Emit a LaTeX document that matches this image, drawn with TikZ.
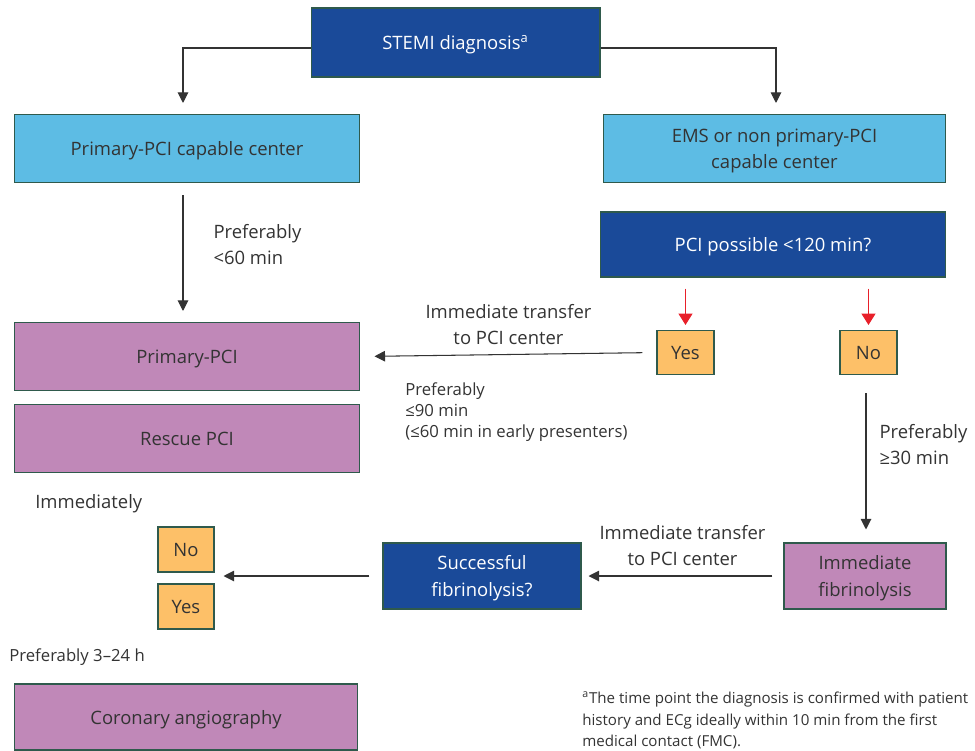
\documentclass[tikz,border=0pt]{standalone}
\usepackage{fontspec}
\setmainfont{Open Sans}
\usepackage{tikz}
\usetikzlibrary{arrows.meta, positioning, calc}
\definecolor{darkblue}{HTML}{1A4A99}
\definecolor{lightblue}{HTML}{5DBCE4}
\definecolor{mauve}{HTML}{C088B8}
\definecolor{amber}{HTML}{FDC068}
\definecolor{edge}{HTML}{2F5A4C}
\definecolor{ink}{HTML}{333333}
\definecolor{alarm}{HTML}{E8202A}

\begin{document}
\begin{tikzpicture}[x=0.02cm, y=-0.02cm,
    every node/.style={text=ink, font=\fontsize{10.5}{15}\selectfont},
    box/.style={draw=edge, line width=0.6pt, inner sep=2pt, align=center},
    big/.style={box, text depth=-4pt},
    wide/.style={big, minimum width=6.92cm, minimum height=1.36cm},
    decide/.style={big, fill=darkblue, text=white},
    answer/.style={box, fill=amber, minimum width=1.14cm, minimum height=0.88cm},
    arr/.style={-{Triangle[length=6pt, width=6pt]}, ink, line width=0.6pt},
    redarr/.style={-{Triangle[length=6.5pt, width=8pt]}, alarm, line width=0.6pt},
    note/.style={align=left, inner sep=0pt, anchor=north west}]
    \useasboundingbox (0,0) rectangle (975,751);
    \node[decide, minimum width=5.78cm, minimum height=1.38cm] (stemi) at (455.5,42.5) {STEMI diagnosis\textsuperscript{a}};
    \node[wide, fill=lightblue] (pcc) at (187,148.5) {Primary-PCI capable center};
    \node[wide, fill=lightblue, minimum width=6.86cm] (ems) at (774.5,148.5) {EMS or non primary-PCI\\capable center};
    \node[wide, decide, minimum height=1.30cm] (poss) at (773,244.5) {PCI possible <120 min?};
    \node[answer] (yesA) at (685.5,352.5) {Yes};
    \node[answer] (noA) at (868.5,352.5) {No};
    \node[wide, fill=mauve] (ppci) at (187,356.5) {Primary-PCI};
    \node[wide, fill=mauve] (rescue) at (187,438.5) {Rescue PCI};
    \node[answer, minimum width=1.12cm, minimum height=0.90cm] (noB) at (186,549.5) {No};
    \node[answer, minimum width=1.12cm, minimum height=0.90cm] (yesB) at (186,606.5) {Yes};
    \node[decide, minimum width=3.96cm, minimum height=1.32cm] (succ) at (482,576) {Successful\\fibrinolysis?};
    \node[big, fill=mauve, minimum width=3.24cm, minimum height=1.32cm] (immf) at (865,576) {Immediate\\fibrinolysis};
    \node[wide, fill=mauve, minimum width=6.88cm, minimum height=1.32cm] (cor) at (186,717) {Coronary angiography};

    \draw[arr, shorten >=0.22cm] ([yshift=-0.11cm]stemi.west) -| (pcc.north -| 183,0);
    \draw[arr, shorten >=0.22cm] ([yshift=-0.11cm]stemi.east) -| (ems.north -| 776,0);
    \draw[arr, shorten <=0.24cm, shorten >=0.22cm] (pcc.south -| 183,0) -- node[note, right=0.6cm, anchor=west, yshift=0.16cm] (lbl60) {Preferably\\<60 min} (ppci.north -| 183,0);
    \draw[redarr, shorten <=0.22cm, shorten >=0.1cm] (poss.south -| yesA) -- (yesA.north);
    \draw[redarr, shorten <=0.22cm, shorten >=0.1cm] (poss.south -| noA) -- (noA.north);
    \draw[arr, shorten <=0.28cm, shorten >=0.28cm] (yesA.west) -- node[above=2pt, align=center] (lblA) {Immediate transfer\\to PCI center} (ppci.east);
    \draw[arr, shorten <=0.36cm, shorten >=0.26cm] (noA.south -| 866,0) -- node[note, right=0.26cm, anchor=west, yshift=0.28cm] (lbl30) {Preferably\\≥30 min} (immf.north -| 866,0);
    \draw[arr, shorten <=0.22cm, shorten >=0.14cm] (immf.west) -- node[above=2pt, align=center] (lblB) {Immediate transfer\\to PCI center} (succ.east);
    \draw[arr, shorten <=0.26cm, shorten >=0.18cm] (succ.west) -- (succ.west -| noB.east);

    \node[note, font=\fontsize{9.5}{12}\selectfont] (lbl90) at (405,382) {Preferably\\≤90 min\\(≤60 min in early presenters)};
    \node[note] (now) at (35,494) {Immediately};
    \node[note, font=\fontsize{9.5}{12}\selectfont] (later) at (9,648) {Preferably 3–24 h};
    \node[note, font=\fontsize{8.6}{12.2}\selectfont] (foot) at (582,691) {\textsuperscript{a}The time point the diagnosis is confirmed with patient\\history and ECg ideally within 10 min from the first\\medical contact (FMC).};
\end{tikzpicture}
\end{document}
